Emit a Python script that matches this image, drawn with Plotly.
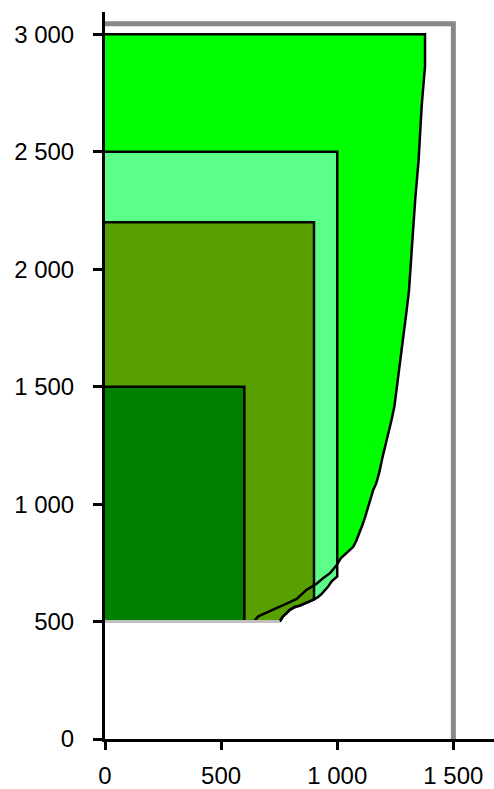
import plotly.graph_objects as go

# ---- data ----
base_y = 500
# bright green region: top edge and right-hand curve
outer_top = 3000
outer_curve_x = [1378, 1378, 1364, 1350, 1336, 1322, 1309, 1297, 1284, 1272, 1259, 1246, 1233, 1220,
                 1207, 1194, 1181, 1168, 1155, 1142, 1129, 1121, 1108, 1095, 1082, 1069, 1042, 1016,
                 997, 969, 940, 911, 868, 846, 825, 796, 739, 703, 660, 640]
outer_curve_y = [3000, 2865, 2700, 2460, 2300, 2100, 1910, 1810, 1705, 1605, 1505, 1415, 1355, 1305,
                 1250, 1195, 1135, 1088, 1060, 1015, 973, 948, 910, 876, 844, 818, 795, 770,
                 740, 706, 685, 661, 635, 614, 596, 583, 557, 543, 522, 500]
# light green region
light_top = 2500
light_right = 1000
light_curve_x = [1000, 976, 961, 947, 933, 918, 904, 882, 861, 839, 818, 796, 782, 767, 752]
light_curve_y = [692, 671, 649, 632, 618, 605, 596, 586, 576, 568, 562, 550, 536, 522, 500]
# olive region
olive_top = 2200
olive_right = 900
olive_curve_x = [900, 882, 861, 839, 818, 796, 782, 767, 752]
olive_curve_y = [594, 586, 576, 568, 562, 550, 536, 522, 500]
# dark green region
dark_top = 1500
dark_right = 600
# frame and baseline
frame_y = 3045
frame_x = 1500
baseline_end = 752

x_ticks = [0, 500, 1000, 1500]
x_ticktext = ["0", "500", "1 000", "1 500"]
y_ticks = [0, 500, 1000, 1500, 2000, 2500, 3000]
y_ticktext = ["0", "500", "1 000", "1 500", "2 000", "2 500", "3 000"]

C_BRIGHT = "#00FF00"
C_LIGHT = "#5CFF8A"
C_OLIVE = "#58A000"
C_DARK = "#008000"

fig = go.Figure()

def poly(xs, ys, color):
    fig.add_trace(go.Scatter(x=xs, y=ys, mode="lines", fill="toself", fillcolor=color,
                             line=dict(width=0, color=color), hoverinfo="skip", showlegend=False))

def outline(xs, ys, w=2.5):
    fig.add_trace(go.Scatter(x=xs, y=ys, mode="lines", line=dict(color="black", width=w),
                             hoverinfo="skip", showlegend=False, cliponaxis=False))

# fills
poly([0, 0] + outer_curve_x + [0], [base_y, outer_top] + outer_curve_y + [base_y], C_BRIGHT)
poly([0, 0, light_right] + light_curve_x + [0],
     [base_y, light_top, light_top] + light_curve_y + [base_y], C_LIGHT)
poly([0, 0, olive_right] + olive_curve_x + [0],
     [base_y, olive_top, olive_top] + olive_curve_y + [base_y], C_OLIVE)
poly([0, 0, dark_right, dark_right, 0], [base_y, dark_top, dark_top, base_y, base_y], C_DARK)

# outlines
outline([0] + outer_curve_x, [outer_top] + outer_curve_y)
outline([0, light_right] + light_curve_x, [light_top, light_top] + light_curve_y)
outline([0, olive_right] + olive_curve_x, [olive_top, olive_top] + olive_curve_y)
outline([0, dark_right, dark_right], [dark_top, dark_top, base_y])

# baseline & frame
fig.add_trace(go.Scatter(x=[0, baseline_end], y=[base_y, base_y], mode="lines",
                         line=dict(color="#C0C0C0", width=3), hoverinfo="skip", showlegend=False))
fig.add_trace(go.Scatter(x=[-15, frame_x, frame_x], y=[frame_y, frame_y, 0], mode="lines",
                         line=dict(color="#888888", width=5), hoverinfo="skip", showlegend=False,
                         cliponaxis=False))

font = dict(family="Liberation Sans", size=24, color="black")
fig.update_layout(
    width=494, height=789,
    margin=dict(l=105, r=0, t=12, b=50, autoexpand=False),
    plot_bgcolor="white", paper_bgcolor="white",
    showlegend=False,
    xaxis=dict(range=[0, 1675], tickvals=x_ticks, ticktext=x_ticktext, showgrid=False,
               zeroline=False, showline=True, linecolor="black", linewidth=3,
               ticks="outside", ticklen=8, tickwidth=3, tickcolor="black", automargin=False,
               tickfont=font, ticklabelstandoff=5, fixedrange=True),
    yaxis=dict(range=[0, 3095], tickvals=y_ticks, ticktext=y_ticktext, showgrid=False,
               zeroline=False, showline=True, linecolor="black", linewidth=3,
               ticks="outside", ticklen=9, tickwidth=3, tickcolor="black", automargin=False,
               tickfont=font, ticklabelstandoff=14, fixedrange=True),
)

fig.write_html("out.html", config={"displayModeBar": False},
               post_script="document.body.style.margin='0';document.body.style.overflow='hidden';")
